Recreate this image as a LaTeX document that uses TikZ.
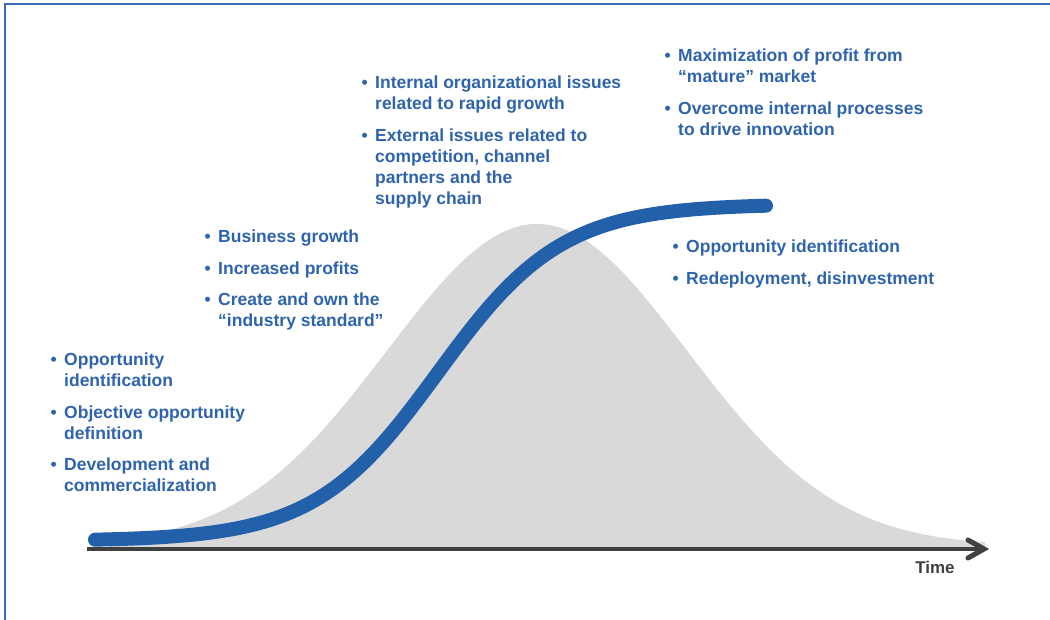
\documentclass[tikz,border=0pt]{standalone}
\usepackage{fontspec}
\setmainfont{Liberation Sans}
\definecolor{tblue}{HTML}{2E63AE}
\definecolor{cblue}{HTML}{2360AA}
\definecolor{bellgray}{HTML}{D9D9D9}
\definecolor{axisgray}{HTML}{404040}
\definecolor{frameblue}{HTML}{3A6AB4}
\newcommand\bitem[1]{\parbox[t]{330pt}{\raggedright\leftskip=13.5pt\noindent\hspace*{-13.5pt}\makebox[13.5pt][l]{•}#1}}
\begin{document}
\begin{tikzpicture}[x=1pt,y=-1pt,
  txt/.style={anchor=base west, inner sep=0pt, text=tblue, font=\bfseries\fontsize{17.5}{21}\selectfont}]
\useasboundingbox (0,0) rectangle (1050,620);
% frame
\coordinate (fr1) at (1056,4);
\coordinate (fr2) at (5,4);
\coordinate (fr3) at (5,626);
\draw[frameblue, line width=2.5pt] (fr1) -- (fr2) -- (fr3);
% bell curve
\fill[bellgray] plot[domain=110:985, samples=200] (\x, {546 - 322*exp(-0.5*((\x-537)/150)^2)}) -- (985,548) -- (110,548) -- cycle;
% S-curve
\draw[cblue, line width=14pt, line cap=round] plot[domain=95:766, samples=200] (\x, {541 - 337/(1+exp(-(\x-438)/62))});
% axis
\coordinate (ax0) at (87,549);
\coordinate (ax1) at (984,549);
\coordinate (ar1) at (968,540);
\coordinate (ar2) at (968,558);
\draw[axisgray, line width=4pt] (ax0) -- (ax1);
\draw[axisgray, line width=5pt, line cap=round, line join=miter] (ar1) -- (ax1) -- (ar2);
\node[anchor=base, inner sep=0pt, text=axisgray, font=\bfseries\fontsize{17}{20}\selectfont] (time) at (935,573) {Time};
% group 1
\node[txt] (g1a) at (50.5,366) {\bitem{Opportunity\\identification}};
\node[txt] (g1b) at (50.5,418) {\bitem{Objective opportunity\\definition}};
\node[txt] (g1c) at (50.5,470) {\bitem{Development and\\commercialization}};
% group 2
\node[txt] (g2a) at (204.5,243) {\bitem{Business growth}};
\node[txt] (g2b) at (204.5,275) {\bitem{Increased profits}};
\node[txt] (g2c) at (204.5,306) {\bitem{Create and own the\\“industry standard”}};
% group 3
\node[txt] (g3a) at (361.5,89) {\bitem{Internal organizational issues\\related to rapid growth}};
\node[txt] (g3b) at (361.5,142) {\bitem{External issues related to\\competition, channel\\partners and the\\supply chain}};
% group 4
\node[txt] (g4a) at (664.5,62) {\bitem{Maximization of profit from\\“mature” market}};
\node[txt] (g4b) at (664.5,115) {\bitem{Overcome internal processes\\to drive innovation}};
% group 5
\node[txt] (g5a) at (672.5,253) {\bitem{Opportunity identification}};
\node[txt] (g5b) at (672.5,285) {\bitem{Redeployment, disinvestment}};
\end{tikzpicture}
\end{document}
